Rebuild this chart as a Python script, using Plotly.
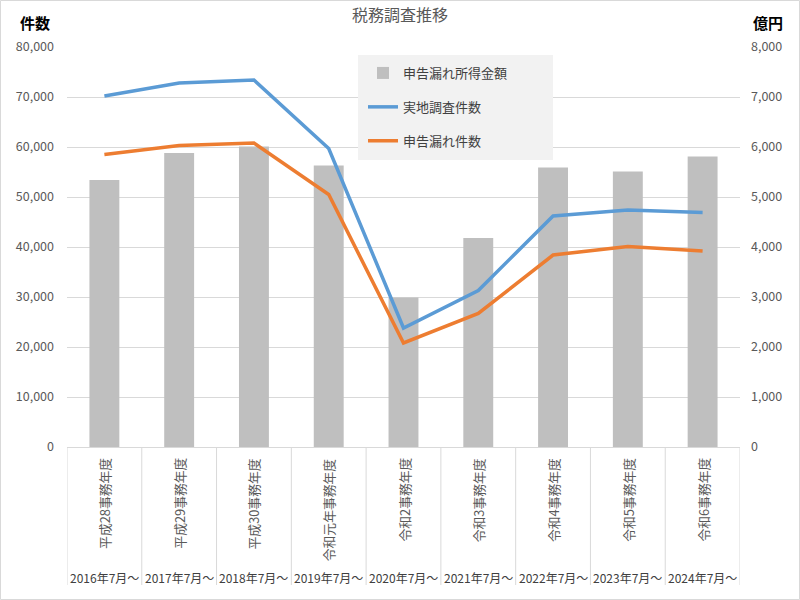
import plotly.graph_objects as go

categories = ["平成28事務年度", "平成29事務年度", "平成30事務年度", "令和元年事務年度",
              "令和2事務年度", "令和3事務年度", "令和4事務年度", "令和5事務年度", "令和6事務年度"]
periods = ["2016年7月～", "2017年7月～", "2018年7月～", "2019年7月～", "2020年7月～",
           "2021年7月～", "2022年7月～", "2023年7月～", "2024年7月～"]
amount_oku = [5340, 5880, 6010, 5630, 2990, 4180, 5590, 5510, 5810]
field_surveys = [70200, 72800, 73400, 59700, 23800, 31300, 46200, 47400, 46900]
omissions = [58500, 60300, 60800, 50500, 20800, 26700, 38400, 40100, 39200]

FONT = "Noto Sans CJK JP"
L, R, T, B = 67, 60, 47, 153
PW, PH = 800 - L - R, 600 - T - B

fig = go.Figure()
fig.add_trace(go.Bar(x=categories, y=amount_oku, name="申告漏れ所得金額",
                     marker=dict(color="#bfbfbf", line=dict(width=0)), width=0.4,
                     yaxis="y", legendgroup="a"))
fig.add_trace(go.Scatter(x=categories, y=field_surveys, name="実地調査件数", mode="lines",
                         line=dict(color="#5b9bd5", width=3.5), yaxis="y2", legendgroup="b"))
fig.add_trace(go.Scatter(x=categories, y=omissions, name="申告漏れ件数", mode="lines",
                         line=dict(color="#ed7d31", width=3.5), yaxis="y2", legendgroup="c"))

shapes = []
for i in range(len(categories) + 1):
    shapes.append(dict(type="line", xref="x", yref="paper", x0=i - 0.5, x1=i - 0.5,
                       y0=0, y1=-138 / PH, line=dict(color="#d9d9d9", width=1)))
# legend box
shapes.append(dict(type="rect", xref="paper", yref="paper",
                   x0=(358 - L) / PW, x1=(553 - L) / PW,
                   y0=(447 - 160) / PH, y1=(447 - 55) / PH,
                   fillcolor="#f2f2f2", line=dict(width=0), layer="above"))
# chart border
shapes.append(dict(type="rect", xref="paper", yref="paper",
                   x0=-(L - 0.5) / PW, x1=(799.5 - L) / PW,
                   y0=-(B - 0.5) / PH, y1=(T - 0.5) / PH + 1,
                   line=dict(color="#d9d9d9", width=1)))

annotations = []
for c, p in zip(categories, periods):
    annotations.append(dict(x=c, xref="x", y=-9 / PH, yref="paper", text=c, showarrow=False,
                            textangle=-90, xanchor="center", yanchor="top",
                            font=dict(family=FONT, size=12.8, color="#595959")))
    annotations.append(dict(x=c, xref="x", y=-130 / PH, yref="paper", text=p, showarrow=False,
                            xanchor="center", yanchor="middle",
                            font=dict(family=FONT, size=12, color="#404040")))
annotations.append(dict(x=(35 - L) / PW, xref="paper", y=(447 - 22) / PH, yref="paper",
                        text="<b>件数</b>", showarrow=False, xanchor="center", yanchor="middle",
                        font=dict(family=FONT, size=15, color="#000000")))
annotations.append(dict(x=(768 - L) / PW, xref="paper", y=(447 - 22) / PH, yref="paper",
                        text="<b>億円</b>", showarrow=False, xanchor="center", yanchor="middle",
                        font=dict(family=FONT, size=15, color="#000000")))

fig.update_layout(
    width=800, height=600,
    margin=dict(l=L, r=R, t=T, b=B),
    paper_bgcolor="white", plot_bgcolor="white",
    font=dict(family=FONT, color="#595959", size=12),
    title=dict(text="税務調査推移", x=0.5, xanchor="center", y=1 - 15 / 600, yanchor="middle",
               font=dict(family=FONT, size=16, color="#595959")),
    xaxis=dict(type="category", range=[-0.5, 8.5], showticklabels=False, showgrid=False,
               showline=True, linecolor="#d9d9d9", linewidth=1, ticks=""),
    yaxis=dict(side="right", range=[0, 8000], dtick=1000, tickformat=",",
               showgrid=True, gridcolor="#d9d9d9", gridwidth=1, zeroline=False,
               ticklabelstandoff=10, tickfont=dict(family=FONT, size=12.5, color="#595959")),
    yaxis2=dict(side="left", overlaying="y", range=[0, 80000], dtick=10000, tickformat=",",
                showgrid=False, zeroline=False, ticklabelstandoff=12,
                tickfont=dict(family=FONT, size=12.5, color="#595959")),
    legend=dict(x=(363 - L) / PW, y=(447 - 58) / PH, xanchor="left", yanchor="top",
                bgcolor="rgba(0,0,0,0)", tracegroupgap=14, itemwidth=30,
                font=dict(family=FONT, size=13, color="#404040")),
    shapes=shapes, annotations=annotations,
    bargap=0.6,
)

fig.write_html("out.html")
